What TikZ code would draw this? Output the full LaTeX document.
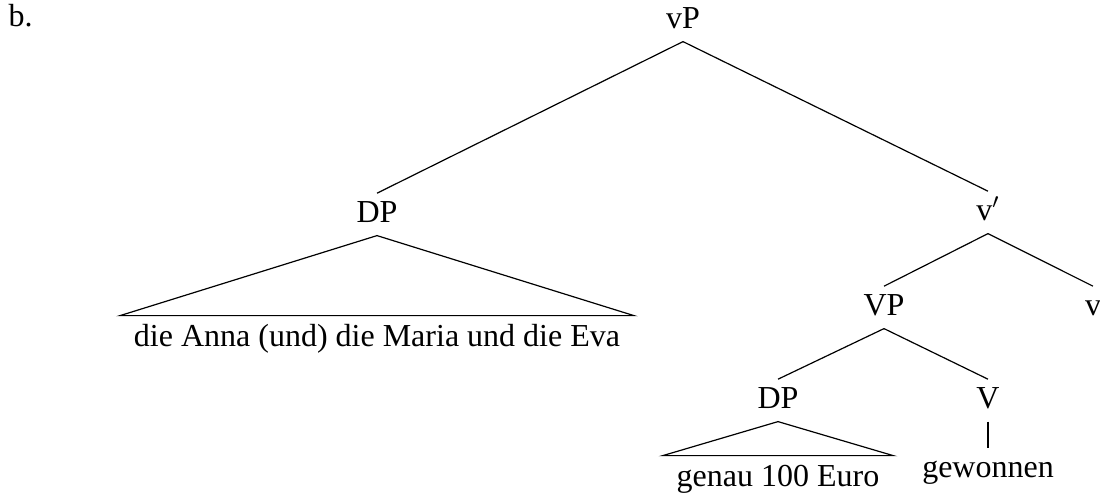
\documentclass[tikz,border=0pt]{standalone}
\usepackage{fontspec}
\setmainfont{Liberation Serif}
\begin{document}
\begin{tikzpicture}[x=0.375pt,y=-0.375pt,
  every node/.style={font=\fontsize{12}{14}\selectfont},
  lbl/.style={inner xsep=0pt, inner ysep=2.6pt, text height=8pt, text depth=2.3pt, anchor=base},
  yld/.style={inner xsep=5pt, inner ysep=3.2pt, text height=8pt, text depth=2.3pt, anchor=base},
  branch/.style={draw=black, line width=0.45pt}]
\useasboundingbox (0,0) rectangle (1100,497);
\node[inner sep=0pt, anchor=base west] (b) at (8,26) {b.};
\node[lbl] (vP) at (683,28) {vP};
\node[lbl] (DPa) at (377,222) {DP};
\node[yld] (ta) at (377,346) {die Anna (und) die Maria und die Eva};
\node[lbl] (vbar) at (988,220) {v$'$};
\node[lbl] (VP) at (884,315) {VP};
\node[lbl] (v) at (1093,315) {v};
\node[lbl] (DPb) at (778,408) {DP};
\node[lbl] (V) at (988,408) {V};
\node[yld] (tb) at (778,486) {genau 100 Euro};
\node[lbl] (gw) at (988,477) {gewonnen};
\draw[branch] (vP.south) -- (DPa.north);
\draw[branch] (vP.south) -- (vbar.north);
\draw[branch] (DPa.south) -- (ta.north west) -- (ta.north east) -- cycle;
\draw[branch] (vbar.south) -- (VP.north);
\draw[branch] (vbar.south) -- (v.north);
\draw[branch] (VP.south) -- (DPb.north);
\draw[branch] (VP.south) -- (V.north);
\draw[branch] (DPb.south) -- (tb.north west) -- (tb.north east) -- cycle;
\draw[branch] (V.south) -- (gw.north);
\end{tikzpicture}
\end{document}
